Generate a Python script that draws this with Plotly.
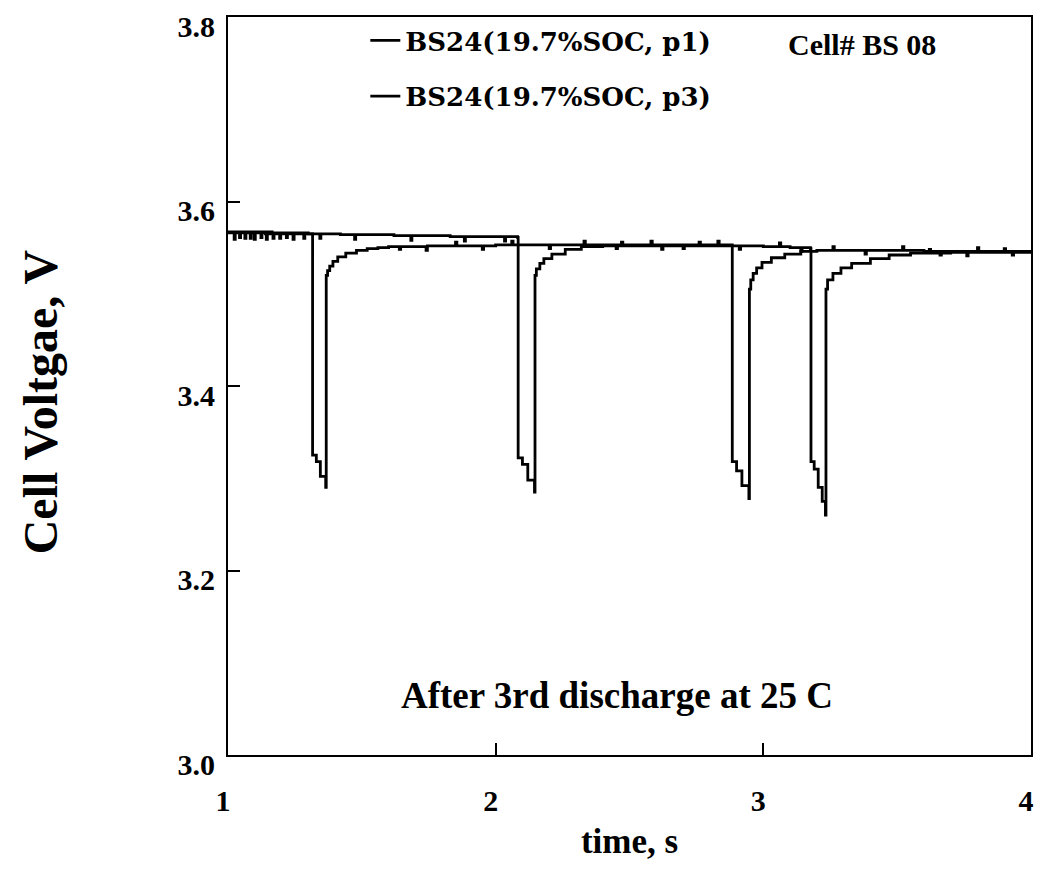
import plotly.graph_objects as go

# ---- data ----
series_names = ["BS24(19.7%SOC, p1)", "BS24(19.7%SOC, p3)"]

t_p1 = [1.000, 1.020, 1.023, 1.027, 1.060, 1.063, 1.067, 1.095, 1.098, 1.102,
        1.140, 1.143, 1.147, 1.190, 1.193, 1.197, 1.240, 1.243, 1.247, 1.280,
        1.283, 1.287, 1.314,
        1.316, 1.330, 1.345, 1.365,
        1.367, 1.372, 1.380, 1.392, 1.410, 1.440, 1.480, 1.520, 1.560, 1.600,
        1.640, 1.645, 1.700, 1.740, 1.745, 1.800, 1.850, 1.855, 1.900, 1.950,
        1.955, 2.000, 2.060, 2.065, 2.150, 2.200, 2.205, 2.280, 2.330, 2.335,
        2.400, 2.450, 2.455, 2.520, 2.580, 2.585, 2.650, 2.700, 2.705, 2.780,
        2.830, 2.835, 2.882,
        2.884, 2.900, 2.920, 2.946,
        2.948, 2.953, 2.962, 2.975, 2.995, 3.030, 3.080, 3.140, 3.200, 3.260,
        3.265, 3.330, 3.380, 3.385, 3.450, 3.520, 3.525, 3.600, 3.660, 3.665,
        3.730, 3.800, 3.805, 3.870, 3.930, 3.935, 4.000]
v_p1 = [3.566, 3.566, 3.559, 3.566, 3.566, 3.560, 3.566, 3.566, 3.559, 3.566,
        3.565, 3.559, 3.565, 3.565, 3.560, 3.565, 3.565, 3.559, 3.565, 3.565,
        3.560, 3.565, 3.565,
        3.325, 3.318, 3.302, 3.290,
        3.520, 3.525, 3.530, 3.535, 3.540, 3.544, 3.547, 3.549, 3.550, 3.551,
        3.548, 3.551, 3.551, 3.547, 3.552, 3.552, 3.556, 3.552, 3.552, 3.548,
        3.552, 3.553, 3.557, 3.553, 3.553, 3.549, 3.553, 3.553, 3.557, 3.553,
        3.553, 3.549, 3.553, 3.553, 3.557, 3.553, 3.553, 3.549, 3.553, 3.553,
        3.557, 3.553, 3.553,
        3.318, 3.308, 3.292, 3.278,
        3.505, 3.515, 3.522, 3.528, 3.534, 3.539, 3.543, 3.546, 3.547, 3.551,
        3.547, 3.547, 3.543, 3.547, 3.547, 3.551, 3.547, 3.546, 3.542, 3.546,
        3.546, 3.550, 3.546, 3.546, 3.542, 3.546, 3.546]

t_p3 = [1.000, 1.040, 1.043, 1.047, 1.080, 1.083, 1.087, 1.120, 1.123, 1.127,
        1.165, 1.168, 1.172, 1.215, 1.218, 1.222, 1.300, 1.340, 1.343, 1.347,
        1.420, 1.470, 1.473, 1.477, 1.560, 1.620, 1.680, 1.683, 1.687, 1.760,
        1.830, 1.880, 1.883, 1.887, 1.960, 2.030, 2.033, 2.037, 2.082,
        2.084, 2.100, 2.120, 2.145,
        2.147, 2.152, 2.165, 2.180, 2.210, 2.260, 2.320, 2.400, 2.470, 2.475,
        2.560, 2.620, 2.625, 2.700, 2.760, 2.765, 2.850, 2.910, 2.915, 3.000,
        3.060, 3.065, 3.100, 3.140, 3.145, 3.176,
        3.178, 3.190, 3.205, 3.220, 3.232,
        3.234, 3.240, 3.260, 3.290, 3.330, 3.400, 3.470, 3.550, 3.620, 3.625,
        3.700, 3.760, 3.765, 3.850, 3.900, 3.905, 4.000]
v_p3 = [3.567, 3.567, 3.561, 3.567, 3.567, 3.560, 3.567, 3.567, 3.561, 3.567,
        3.566, 3.560, 3.566, 3.566, 3.561, 3.566, 3.565, 3.565, 3.560, 3.565,
        3.564, 3.564, 3.559, 3.564, 3.564, 3.563, 3.563, 3.558, 3.563, 3.563,
        3.562, 3.562, 3.557, 3.562, 3.562, 3.562, 3.557, 3.562, 3.561,
        3.322, 3.315, 3.298, 3.285,
        3.520, 3.527, 3.533, 3.538, 3.543, 3.548, 3.551, 3.552, 3.556, 3.552,
        3.552, 3.548, 3.552, 3.552, 3.556, 3.552, 3.552, 3.548, 3.552, 3.551,
        3.555, 3.551, 3.550, 3.546, 3.550, 3.549,
        3.318, 3.310, 3.290, 3.275, 3.260,
        3.505, 3.515, 3.522, 3.528, 3.533, 3.538, 3.542, 3.544, 3.548, 3.544,
        3.545, 3.541, 3.545, 3.545, 3.549, 3.545, 3.545]

x_ticks = [1, 2, 3, 4]
y_ticks = [3.0, 3.2, 3.4, 3.6, 3.8]

fig = go.Figure()
for name, tx, vy in [(series_names[0], t_p1, v_p1), (series_names[1], t_p3, v_p3)]:
    fig.add_trace(go.Scatter(x=tx, y=vy, mode="lines", name=name, legendgroup=name,
                             line=dict(color="black", width=2.8, shape="hv")))

serif = "Liberation Serif"
fig.update_layout(
    width=1027, height=875,
    margin=dict(l=220, r=4, t=9, b=128),
    paper_bgcolor="white", plot_bgcolor="white",
    showlegend=True,
    legend=dict(x=0.171, y=1.0, xanchor="left", yanchor="top",
                font=dict(family="DejaVu Serif", size=26, color="black", weight="bold"),
                tracegroupgap=19, bgcolor="rgba(0,0,0,0)", traceorder="grouped"),
    annotations=[
        dict(text="<b>Cell# BS 08</b>", x=3.37, y=3.770, xref="x", yref="y",
             showarrow=False, font=dict(family=serif, size=30, color="black"),
             xanchor="center", yanchor="middle"),
        dict(text="<b>After 3rd discharge at 25 C</b>", x=2.455, y=3.065, xref="x", yref="y",
             showarrow=False, font=dict(family=serif, size=37, color="black"),
             xanchor="center", yanchor="middle"),
        dict(text="<b>Cell Voltgae, V</b>", x=-0.234, y=0.478, xref="paper", yref="paper",
             textangle=-90, showarrow=False, font=dict(family=serif, size=48, color="black"),
             xanchor="center", yanchor="middle"),
    ],
)
fig.update_xaxes(range=[1, 4], tickvals=x_ticks, ticktext=[str(v) for v in x_ticks],
                 ticks="inside", ticklen=12, tickwidth=1.5, tickcolor="black",
                 showline=True, linecolor="black", linewidth=2, mirror=True,
                 showgrid=False, zeroline=False, ticklabelstandoff=18, ticklabelshift=-5,
                 tickfont=dict(family=serif, size=30, color="black", weight="bold"),
                 title=dict(text="<b>time, s</b>", standoff=12,
                            font=dict(family=serif, size=35, color="black")),
                 automargin=False)
fig.update_yaxes(range=[3.0, 3.8], tickvals=y_ticks, ticktext=[f"{v:.1f}" for v in y_ticks],
                 ticks="inside", ticklen=12, tickwidth=1.5, tickcolor="black",
                 showline=True, linecolor="black", linewidth=2, mirror=True,
                 showgrid=False, zeroline=False, ticklabelstandoff=5, ticklabelshift=9,
                 tickfont=dict(family=serif, size=30, color="black", weight="bold"),
                 automargin=False)

fig.write_html("out.html")
